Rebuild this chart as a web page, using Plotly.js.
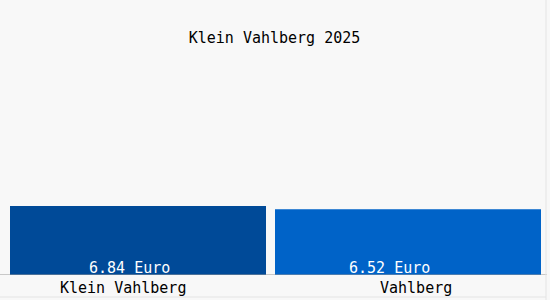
<!DOCTYPE html>
<html>
<head>
<meta charset="utf-8">
<script src="https://cdn.plot.ly/plotly-3.0.1.min.js"></script>
<style>html,body{margin:0;padding:0;background:#f8f8f8;}#chart{width:550px;height:300px;}</style>
</head>
<body>
<div id="chart"></div>
<script>
const categories = ["Klein Vahlberg", "Vahlberg"];
const values = [6.84, 6.52];
const valueLabels = ["6.84 Euro", "6.52 Euro"];
const titleText = "Klein Vahlberg 2025";

const colors = ["#004a98", "#0063c8"];
const font = "DejaVu Sans Mono, monospace";

const labelShift = [-15.5, 7.5];
const textShift = [-8.3, -18.3];

const annotations = [];
categories.forEach((c, i) => {
  annotations.push({
    x: c, y: 0, xref: "x", yref: "y", text: categories[i], showarrow: false,
    yanchor: "top", yshift: -2, xshift: labelShift[i],
    font: {family: font, size: 15, color: "#000"}
  });
  annotations.push({
    x: c, y: 0, xref: "x", yref: "y", text: valueLabels[i], showarrow: false,
    yanchor: "bottom", yshift: -4, xshift: textShift[i],
    font: {family: font, size: 15, color: "#ffffff"}
  });
});

const data = [{
  type: "bar",
  x: categories,
  y: values,
  width: [256/270, 266/270],
  marker: {color: colors, line: {width: 0}},
  hoverinfo: "none"
}];

const layout = {
  width: 550, height: 300,
  paper_bgcolor: "#f8f8f8", plot_bgcolor: "#f8f8f8",
  margin: {l: 3, r: 7, t: 25, b: 25},
  title: {text: titleText, x: 274.5/550, xanchor: "center", y: 1 - 38/300, yanchor: "middle", yref: "container",
          font: {family: font, size: 15, color: "#000"}},
  xaxis: {type: "category", range: [-0.5, 1.5], showticklabels: false, showgrid: false, zeroline: false, showline: false, ticks: ""},
  yaxis: {range: [0, 250/10.09], showticklabels: false, showgrid: false, zeroline: false, showline: false, ticks: ""},
  showlegend: false,
  annotations: annotations,
  shapes: [
    {type: "line", xref: "paper", yref: "y", x0: -3/540, x1: 544/540, y0: 0, y1: 0, line: {color: "#999999", width: 1}},
    {type: "line", xref: "paper", yref: "paper", x0: 543/540, x1: 543/540, y0: -25/250, y1: 25/250 + 1, line: {color: "#e4e4e4", width: 1}},
    {type: "line", xref: "paper", yref: "paper", x0: -3/540, x1: 543/540, y0: -22/250, y1: -22/250, line: {color: "#e4e4e4", width: 1}}
  ]
};

Plotly.newPlot("chart", data, layout, {displayModeBar: false, staticPlot: true});
</script>
</body>
</html>
